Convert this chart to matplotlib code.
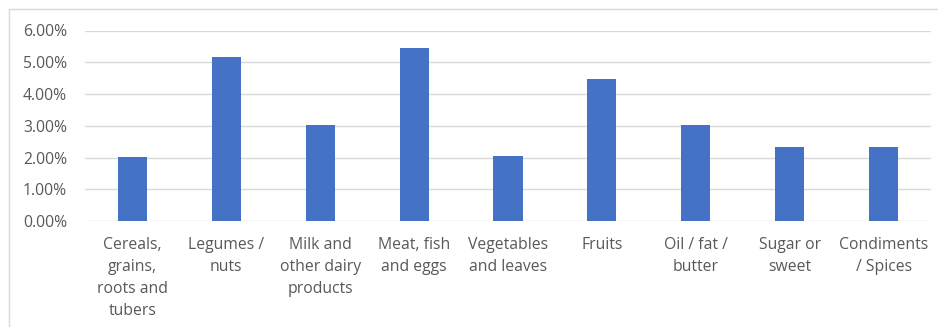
import numpy as np
import matplotlib.pyplot as plt
from matplotlib.patches import Rectangle
from matplotlib.ticker import FuncFormatter

categories = ["Cereals,\ngrains,\nroots and\ntubers", "Legumes /\nnuts",
              "Milk and\nother dairy\nproducts", "Meat, fish\nand eggs",
              "Vegetables\nand leaves", "Fruits", "Oil / fat /\nbutter",
              "Sugar or\nsweet", "Condiments\n/ Spices"]
values = [2.01, 5.18, 3.03, 5.44, 2.06, 4.46, 3.03, 2.34, 2.34]
yticks = [0, 1, 2, 3, 4, 5, 6]

plt.rcParams['font.family'] = ['Open Sans', 'DejaVu Sans']

fig = plt.figure(figsize=(9.38, 3.27), dpi=100)
ax = fig.add_axes([85.3 / 938, (327 - 221) / 327, (930.7 - 85.3) / 938, (221 - 30.5) / 327])

x = np.arange(len(categories))
ax.bar(x, values, width=0.31, color='#4472C4', zorder=3)

ax.set_xlim(-0.5, len(categories) - 0.5)
ax.set_ylim(0, 6)
ax.set_yticks(yticks)
ax.yaxis.set_major_formatter(FuncFormatter(lambda v, p: f"{v:.2f}%"))
ax.set_xticks(x)
ax.set_xticklabels(categories, linespacing=1.5)

ax.grid(axis='y', color='#D9D9D9', linewidth=1, zorder=0)
for s in ax.spines.values():
    s.set_visible(False)
ax.tick_params(axis='both', length=0, colors='#595959', labelsize=11.3)
ax.tick_params(axis='x', pad=11.5)
ax.tick_params(axis='y', pad=13)

# outer chart border
fig.patches.append(Rectangle((9 / 938, -0.1), 1.1, (327 - 8.5) / 327 + 0.1,
                             transform=fig.transFigure, fill=False,
                             edgecolor='#D9D9D9', linewidth=1))

fig.savefig('out.png', dpi=100)
